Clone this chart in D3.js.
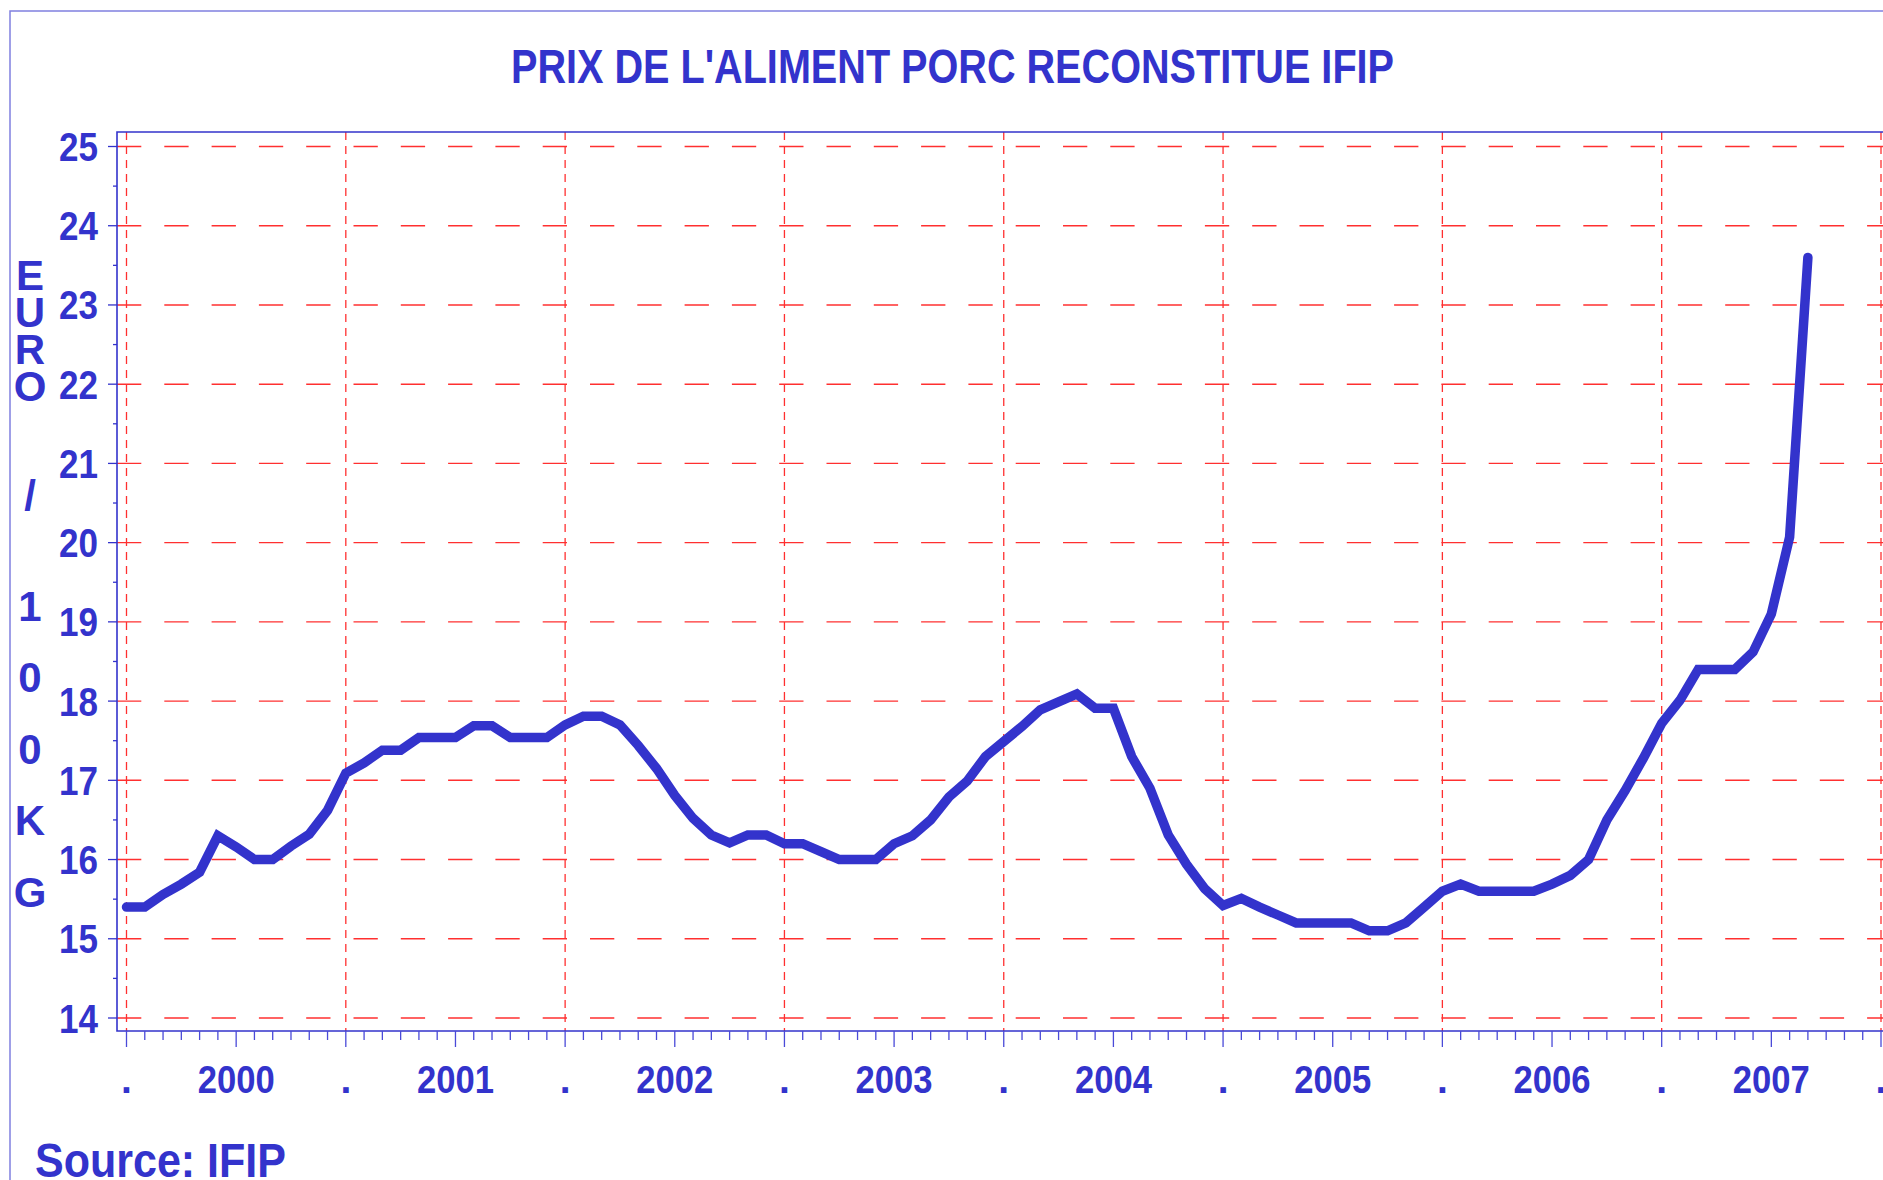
<!DOCTYPE html>
<html>
<head>
<meta charset="utf-8">
<script src="https://cdn.jsdelivr.net/npm/d3@7/dist/d3.min.js"></script>
<style>
  html, body { margin: 0; padding: 0; background: #fff; overflow: hidden; }
  text { font-family: "Liberation Sans", Arial, sans-serif; font-weight: bold; fill: #3333cc; }
</style>
</head>
<body>
<div id="chart"></div>
<script>
// monthly price, euro / 100 kg, starting january 2000
var years = [2000, 2001, 2002, 2003, 2004, 2005, 2006, 2007];
var prix2000 = [15.40, 15.40, 15.56, 15.69, 15.84, 16.30, 16.16, 16.00, 16.00, 16.17, 16.32, 16.62];
var prix2001 = [17.09, 17.22, 17.38, 17.38, 17.54, 17.54, 17.54, 17.69, 17.69, 17.54, 17.54, 17.54];
var prix2002 = [17.70, 17.81, 17.81, 17.70, 17.44, 17.15, 16.81, 16.52, 16.31, 16.21, 16.31, 16.31];
var prix2003 = [16.20, 16.20, 16.10, 16.00, 16.00, 16.00, 16.20, 16.30, 16.50, 16.79, 16.99, 17.30];
var prix2004 = [17.49, 17.68, 17.89, 17.99, 18.09, 17.91, 17.91, 17.30, 16.90, 16.31, 15.94, 15.63];
var prix2005 = [15.42, 15.51, 15.40, 15.30, 15.20, 15.20, 15.20, 15.20, 15.10, 15.10, 15.20, 15.40];
var prix2006 = [15.60, 15.69, 15.60, 15.60, 15.60, 15.60, 15.69, 15.80, 16.00, 16.50, 16.87, 17.28];
var prix2007 = [17.72, 18.01, 18.40, 18.40, 18.40, 18.62, 19.10, 20.07, 23.60];
var yTicks = [14, 15, 16, 17, 18, 19, 20, 21, 22, 23, 24, 25];
var title = "PRIX DE L'ALIMENT PORC RECONSTITUE IFIP";
var yTitle = ["E", "U", "R", "O", "/", "1", "0", "0", "K", "G"];
var source = "Source: IFIP";

var W = 1883, H = 1180;
var blue = "#3333cc", red = "#ff3030";

var prix = [].concat(prix2000, prix2001, prix2002, prix2003, prix2004, prix2005, prix2006, prix2007);
var nMonths = years.length * 12;

var plotL = 117, plotT = 132, plotB = 1031, plotR = W + 10;

var x = d3.scaleLinear().domain([0, nMonths]).range([126.5, 1881]);
var y = d3.scaleLinear().domain([14, 25]).range([1018, 146.5]);

var svg = d3.select("#chart").append("svg")
    .attr("width", W).attr("height", H);

// outer frame
svg.append("path")
    .attr("d", "M10," + H + "V11H" + W)
    .attr("fill", "none").attr("stroke", "#8080e0").attr("stroke-width", 1.5);

// title
svg.append("text")
    .attr("x", 511).attr("y", 83)
    .attr("font-size", 49)
    .attr("textLength", 883).attr("lengthAdjust", "spacingAndGlyphs")
    .text(title);

// horizontal grid
svg.append("g").selectAll("line").data(yTicks).enter().append("line")
    .attr("x1", plotL).attr("x2", plotR)
    .attr("y1", function(d){ return y(d); }).attr("y2", function(d){ return y(d); })
    .attr("stroke", red).attr("stroke-width", 1.4)
    .attr("stroke-dasharray", "24.3,23");

// vertical grid at year boundaries
var yearBounds = d3.range(0, nMonths + 1, 12);
svg.append("g").selectAll("line").data(yearBounds).enter().append("line")
    .attr("x1", function(d){ return x(d); }).attr("x2", function(d){ return x(d); })
    .attr("y1", plotT).attr("y2", plotB)
    .attr("stroke", red).attr("stroke-width", 1.3)
    .attr("stroke-dasharray", "8,6");

// plot frame: top, left, bottom
svg.append("path")
    .attr("d", "M" + plotR + "," + plotT + "H" + plotL + "V" + plotB + "H" + plotR)
    .attr("fill", "none").attr("stroke", blue).attr("stroke-width", 1.6);

// y axis ticks and labels
var yMinor = d3.range(14.5, 25, 1);
svg.append("g").selectAll("line").data(yMinor).enter().append("line")
    .attr("x1", plotL - 4).attr("x2", plotL)
    .attr("y1", function(d){ return y(d); }).attr("y2", function(d){ return y(d); })
    .attr("stroke", blue).attr("stroke-width", 1.3);
svg.append("g").selectAll("line").data(yTicks).enter().append("line")
    .attr("x1", plotL - 9).attr("x2", plotL)
    .attr("y1", function(d){ return y(d); }).attr("y2", function(d){ return y(d); })
    .attr("stroke", blue).attr("stroke-width", 1.3);
svg.append("g").selectAll("text").data(yTicks).enter().append("text")
    .attr("x", 59).attr("y", function(d){ return y(d) + 14.5; })
    .attr("font-size", 40)
    .attr("textLength", 39).attr("lengthAdjust", "spacingAndGlyphs")
    .text(function(d){ return d; });

// y axis title, stacked letters (EURO packed tight, as in the original)
var yTitlePos = [290, 327, 364, 401, 510, 621, 692, 764, 835, 907];
svg.append("g").selectAll("text").data(yTitle).enter().append("text")
    .attr("x", 30).attr("y", function(d, i){ return yTitlePos[i]; })
    .attr("text-anchor", "middle")
    .attr("font-size", 42)
    .text(function(d){ return d; });

// x axis monthly ticks
var months = d3.range(0, nMonths + 1);
svg.append("g").selectAll("line").data(months).enter().append("line")
    .attr("x1", function(d){ return x(d); }).attr("x2", function(d){ return x(d); })
    .attr("y1", plotB)
    .attr("y2", function(d){ return d % 6 === 0 ? plotB + 16 : plotB + 9; })
    .attr("stroke", "#4a4ad8").attr("stroke-width", 1.3);

// x labels: dots at year boundaries, year at mid-year
svg.append("g").selectAll("text").data(yearBounds).enter().append("text")
    .attr("x", function(d){ return x(d); }).attr("y", 1093)
    .attr("text-anchor", "middle").attr("font-size", 39)
    .text(".");
svg.append("g").selectAll("text").data(years).enter().append("text")
    .attr("x", function(d, i){ return x(i * 12 + 6) - 38.5; }).attr("y", 1093)
    .attr("font-size", 39)
    .attr("textLength", 77).attr("lengthAdjust", "spacingAndGlyphs")
    .text(function(d){ return d; });

// price line
var line = d3.line()
    .x(function(d, i){ return x(i); })
    .y(function(d){ return y(d); });
svg.append("path")
    .datum(prix)
    .attr("d", line)
    .attr("fill", "none").attr("stroke", blue)
    .attr("stroke-width", 9.5)
    .attr("stroke-linecap", "round").attr("stroke-linejoin", "miter");

// source
svg.append("text")
    .attr("x", 35).attr("y", 1177)
    .attr("font-size", 48)
    .attr("textLength", 251).attr("lengthAdjust", "spacingAndGlyphs")
    .text(source);
</script>
</body>
</html>
